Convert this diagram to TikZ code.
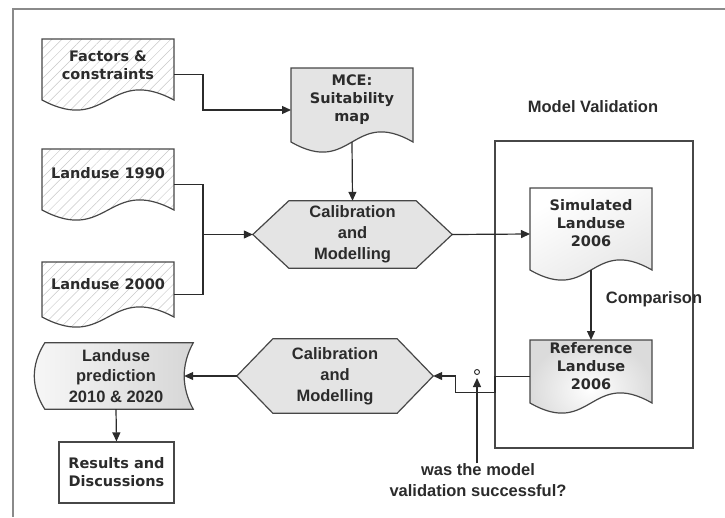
\documentclass[tikz,border=0pt]{standalone}
\usepackage{fontspec}
\setmainfont{DejaVu Sans}
\newfontfamily\labelfont{Liberation Sans}
\usetikzlibrary{arrows.meta,calc,patterns.meta}
\definecolor{ink}{HTML}{2B2B2B}
\definecolor{edge}{HTML}{474747}
\definecolor{framegray}{HTML}{8A8A8A}
\definecolor{dotfill}{HTML}{E4E4E4}
\definecolor{hatch}{HTML}{C8C8C8}
\pgfdeclarelayer{bg}
\pgfsetlayers{bg,main}

% document symbol: flat top, wavy bottom; corners sit 10pt above the node's south
\newcommand\docoutline[2]{%
  \path[#2] (#1.north west) -- (#1.north east) -- ($(#1.south east)+(0,-10)$)
    .. controls ($(#1.south)+(0,-45)$) and ($(#1.south)+(0,25)$) .. ($(#1.south west)+(0,-10)$) -- cycle;}
% preparation symbol (elongated hexagon)
\newcommand\hexoutline[2]{%
  \path[#2] (#1.west) -- ($(#1.north west)+(36,0)$) -- ($(#1.north east)+(-36,0)$) -- (#1.east)
    -- ($(#1.south east)+(-36,0)$) -- ($(#1.south west)+(36,0)$) -- cycle;}

\begin{document}
\begin{tikzpicture}[x=1pt,y=-1pt,
  area/.style={inner sep=0pt, outer sep=0pt},
  doctext/.style={font=\fontsize{14.5}{18}\selectfont\bfseries, text=ink, align=center, inner sep=0pt},
  hextext/.style={font=\labelfont\fontsize{16.5}{21}\selectfont\bfseries, text=ink, align=center, inner sep=0pt},
  labeltext/.style={font=\labelfont\fontsize{16.5}{21}\selectfont\bfseries, text=ink, align=center, inner sep=0pt},
  outline/.style={draw=edge, line width=1.2pt},
  hatched/.style={outline, pattern={Lines[angle=45,distance=7pt,line width=0.5pt]}, pattern color=hatch},
  dotted fill/.style={outline, fill=dotfill},
  conn/.style={draw=ink, line width=1.2pt, -{Triangle[length=9pt,width=8pt]}},
  plain/.style={draw=ink, line width=1.2pt},
]
\useasboundingbox (0,0) rectangle (725,517);

% open frame (top and left rules)
\draw[framegray, line width=2.5pt] (12,9) -- (725,9);
\draw[framegray, line width=2.5pt] (13,9) -- (13,517);

% ---------- geometry nodes ----------
\node[area, minimum width=132, minimum height=71] (fac) at (108,74.5) {};
\node[area, minimum width=132, minimum height=71] (l90) at (108,184.5) {};
\node[area, minimum width=132, minimum height=65] (l00) at (108,294.5) {};
\node[area, minimum width=122, minimum height=84] (mce) at (352,110) {};
\node[area, minimum width=122, minimum height=92] (sim) at (591,234) {};
\node[area, minimum width=122, minimum height=73] (ref) at (591,376.5) {};
\node[area, minimum width=198, minimum height=307] (valbox) at (594,294.5) {};
\node[hextext, minimum width=199, minimum height=67] (hex1) at (352.5,234.5) {Calibration\\and\\Modelling};
\node[hextext, minimum width=196, minimum height=74] (hex2) at (335,376) {Calibration\\and\\Modelling};
\node[labeltext, font=\labelfont\fontsize{16.5}{20.5}\selectfont\bfseries, minimum width=154, minimum height=66] (pred) at (116,376) {Landuse\\prediction\\2010 \& 2020};
\node[doctext, draw=edge, line width=1.2pt, fill=white, minimum width=115, minimum height=61] (res) at (116.5,472.5) {Results and\\Discussions};

% ---------- texts of the document symbols ----------
\node[doctext] (fac-t) at ($(fac.center)+(0,-9)$) {Factors \&\\constraints};
\node[doctext] (l90-t) at ($(l90.center)+(0,-11)$) {Landuse 1990};
\node[doctext] (l00-t) at ($(l00.center)+(0,-10)$) {Landuse 2000};
\node[doctext] (mce-t) at ($(mce.center)+(0,-10)$) {MCE:\\Suitability\\map};
\node[doctext] (sim-t) at ($(sim.center)+(0,-11)$) {Simulated\\Landuse\\2006};
\node[doctext] (ref-t) at ($(ref.center)+(0,-10)$) {Reference\\Landuse\\2006};

\node[labeltext] (mvtitle) at (593,107) {Model Validation};
\node[labeltext] (cmp) at (654,299) {Comparison};
\node[labeltext] (quest) at (478,480) {was the model\\validation successful?};

% ---------- outlines ----------
\begin{pgfonlayer}{bg}
  \docoutline{fac}{hatched}
  \docoutline{l90}{hatched}
  \docoutline{l00}{hatched}
  \docoutline{mce}{dotted fill}
  \docoutline{sim}{outline, top color=white, bottom color=gray!22, shading angle=30}
  \docoutline{ref}{outline, inner color=white, outer color=gray!28}
  \hexoutline{hex1}{dotted fill}
  \hexoutline{hex2}{dotted fill}
  \path[outline, left color=gray!6, right color=gray!32]
    ($(pred.north west)+(6,0)$) -- (pred.north east)
    .. controls ($(pred.north east)+(-12,22)$) and ($(pred.south east)+(-12,-22)$) .. (pred.south east)
    -- ($(pred.south west)+(6,0)$)
    .. controls ($(pred.south west)+(-8,-22)$) and ($(pred.north west)+(-8,22)$) .. ($(pred.north west)+(6,0)$)
    -- cycle;
  \draw[edge, line width=1.3pt] (valbox.north west) rectangle (valbox.south east);
\end{pgfonlayer}

% ---------- connectors ----------
\coordinate (predin) at ($(pred.east)+(-9,0)$);
\coordinate (gate) at (477,378);

\draw[conn] (fac.east) -- ++(29,0) |- (mce.west);
\draw[conn] ($(mce.south)+(0,-10)$) -- (hex1.north);
\draw[plain] (l90.east) -- ++(29,0) coordinate (jtop) |- (l00.east);
\draw[conn] (jtop |- hex1.west) -- (hex1.west);
\draw[conn] (hex1.east) -- (sim.west);
\draw[conn] ($(sim.south)+(0,-10)$) -- (ref.north);
\draw[conn] (ref.west) -- (valbox.west |- ref.west) -- ++(0,16) -| ($(hex2.east)+(22,0)$) -- (hex2.east);
\draw[conn] (hex2.west) -- (predin);
\draw[conn] (pred.south) -- (res.north);
\draw[conn] (quest.north -| gate) -- (gate);
\node[circle, draw=ink, fill=white, line width=0.9pt, inner sep=0pt, minimum size=5pt] (gatering) at (477,372) {};
\end{tikzpicture}
\end{document}
